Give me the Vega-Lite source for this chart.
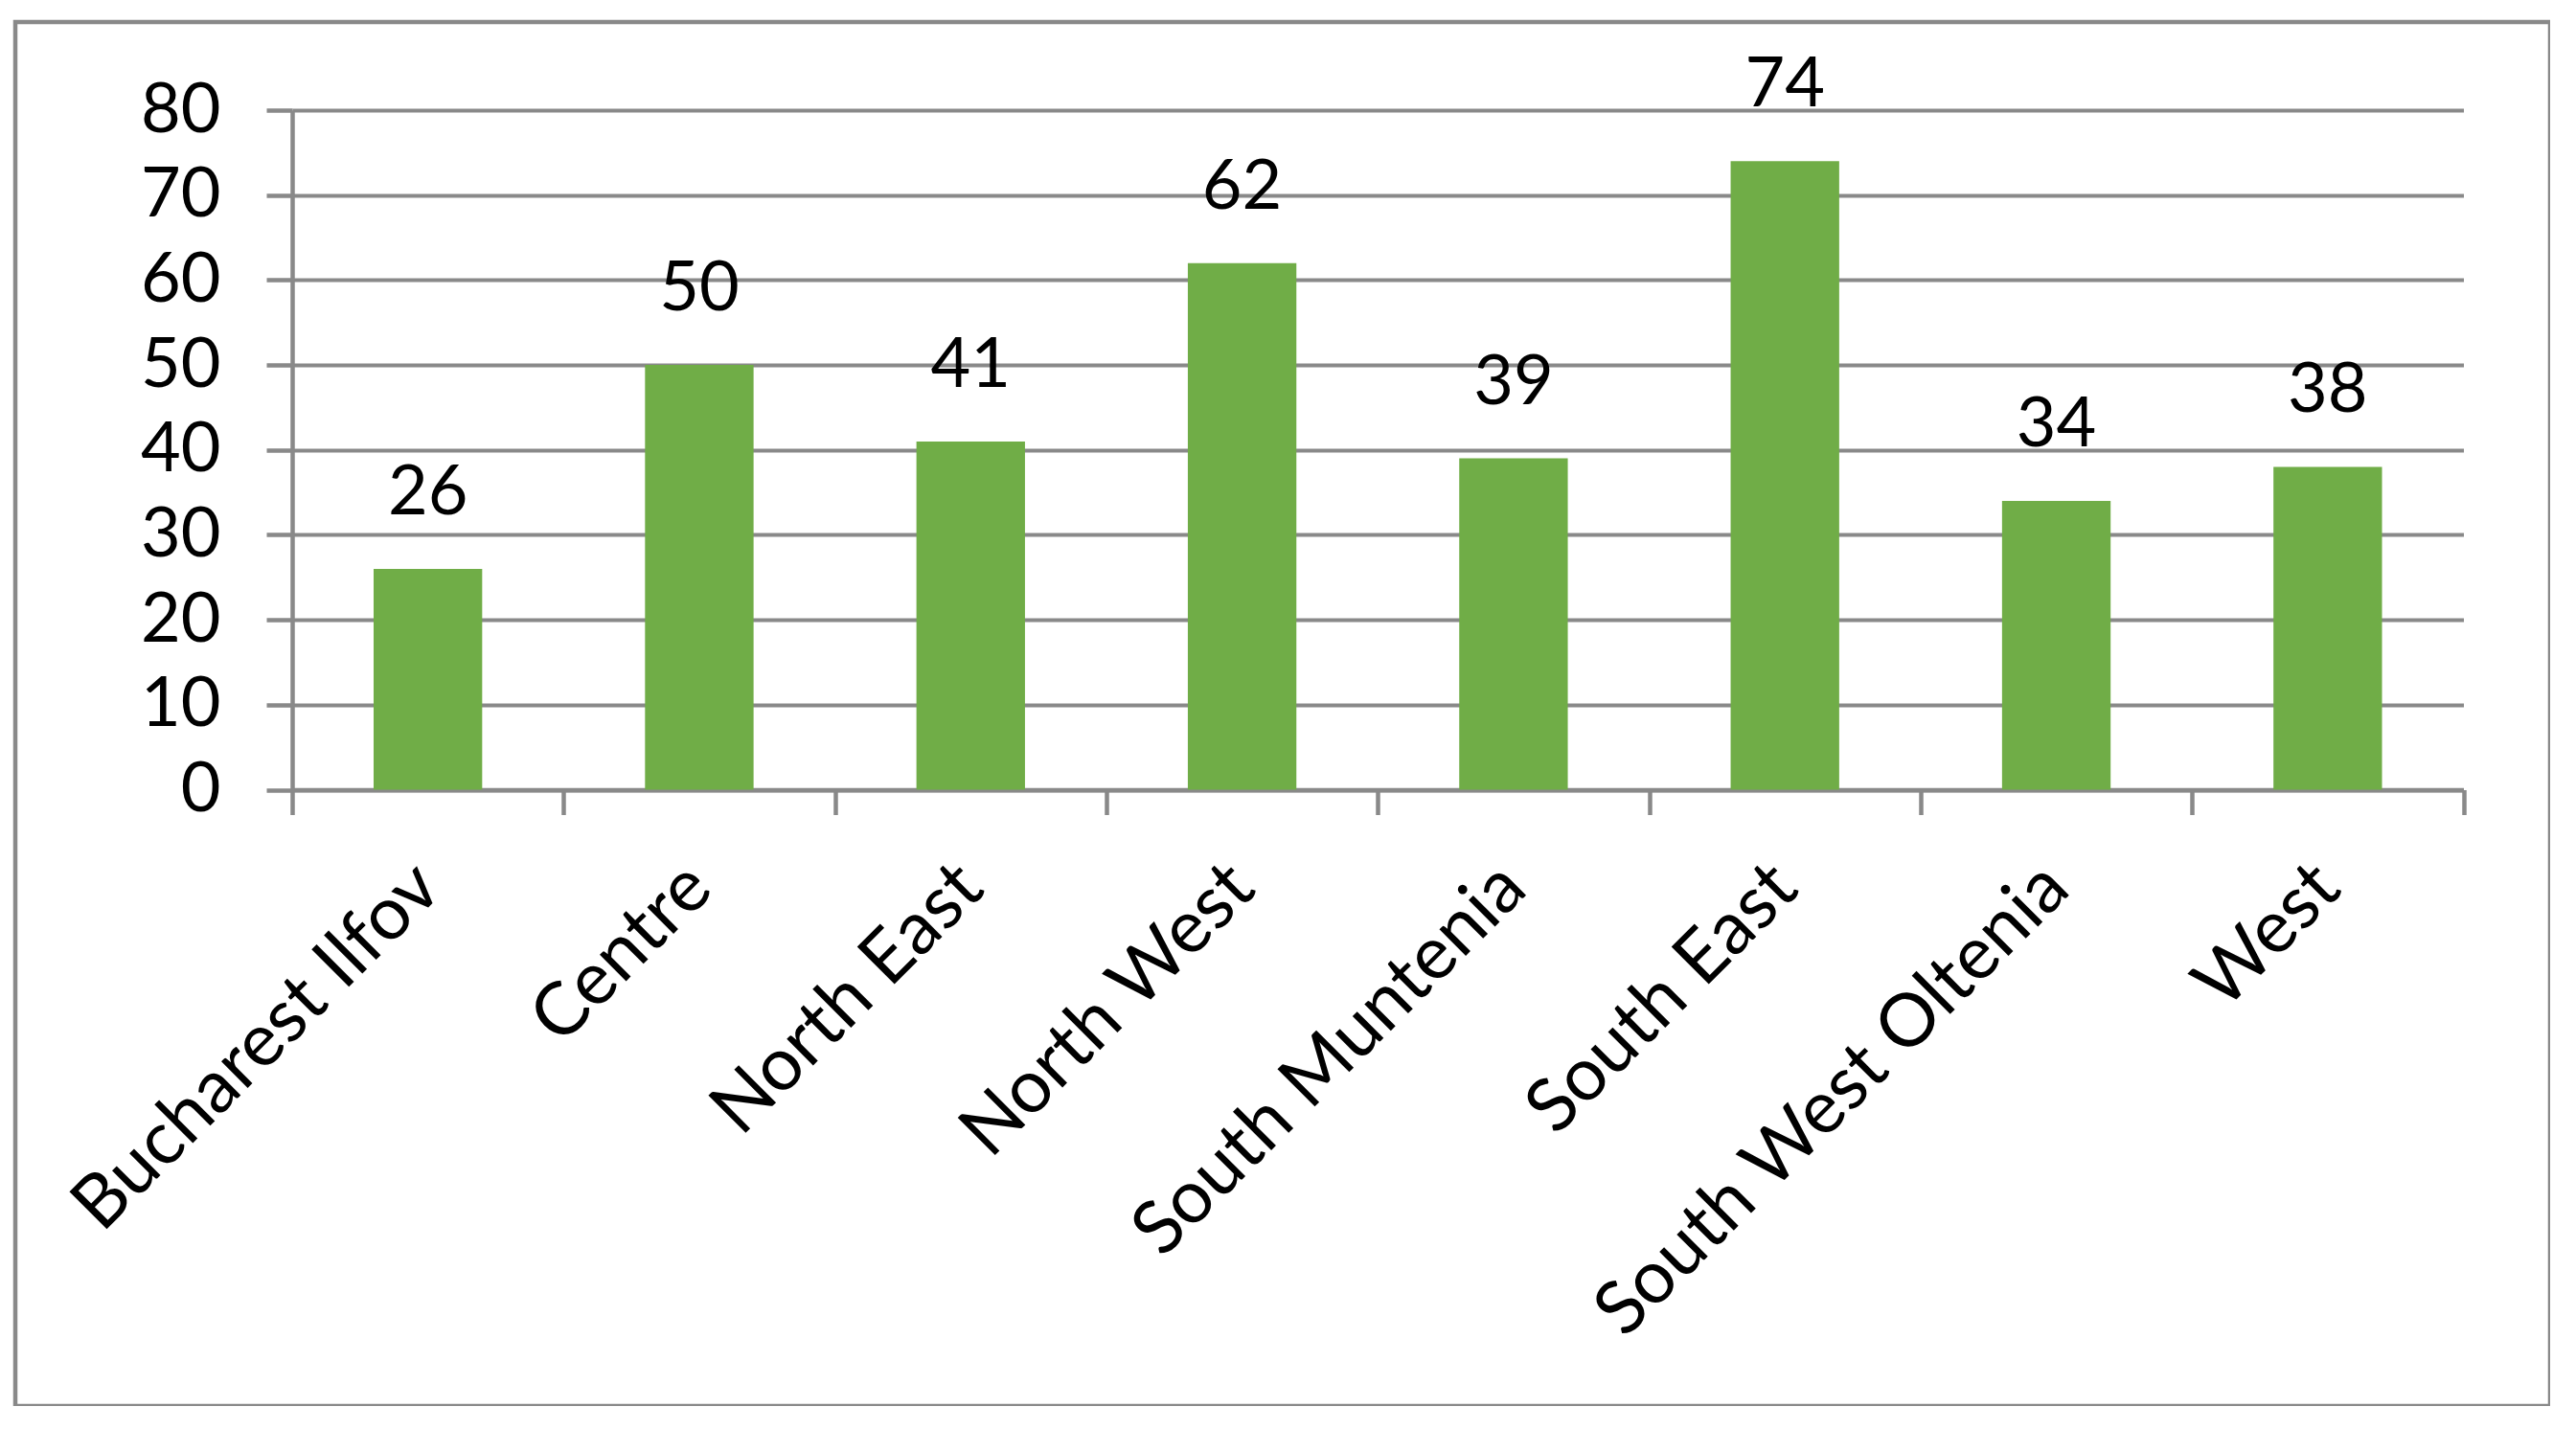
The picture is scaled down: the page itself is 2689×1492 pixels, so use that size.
{
  "$schema": "https://vega.github.io/schema/vega-lite/v6.json",
  "width": 2646,
  "height": 1445,
  "autosize": {"type": "none"},
  "padding": {"left": 16, "top": 23, "right": 0, "bottom": 0},
  "background": "white",
  "view": {"stroke": "#898989", "strokeWidth": 4.5, "fill": "white"},
  "config": {
    "font": "Lato",
    "axis": {
      "labelFont": "Lato",
      "labelFontSize": 72,
      "labelColor": "#000000",
      "domainColor": "#898989",
      "domainWidth": 4.5,
      "tickColor": "#898989",
      "tickWidth": 4.5,
      "gridColor": "#898989",
      "gridWidth": 4,
      "gridOpacity": 1,
      "title": null
    }
  },
  "data": {
    "values": [
      {"region": "Bucharest Ilfov", "value": 26},
      {"region": "Centre", "value": 50},
      {"region": "North East", "value": 41},
      {"region": "North West", "value": 62},
      {"region": "South Muntenia", "value": 39},
      {"region": "South East", "value": 74},
      {"region": "South West Oltenia", "value": 34},
      {"region": "West", "value": 38}
    ]
  },
  "encoding": {
    "x": {
      "field": "region",
      "type": "nominal",
      "sort": null,
      "scale": {"range": [289, 2555.5], "paddingInner": 0, "paddingOuter": 0},
      "axis": {
        "offset": -643.5,
        "grid": false,
        "tickBand": "extent",
        "tickSize": 26,
        "labelAngle": -45,
        "labelAlign": "right",
        "labelBaseline": "middle",
        "labelFontSize": 77,
        "labelPadding": 64,
        "labelOverlap": false,
        "labelLimit": 0
      }
    },
    "y": {
      "field": "value",
      "type": "quantitative",
      "scale": {"domain": [0, 80], "range": [801.5, 92], "nice": false, "zero": true},
      "axis": {
        "offset": -289,
        "values": [0, 10, 20, 30, 40, 50, 60, 70, 80],
        "grid": true,
        "tickSize": 27,
        "labelPadding": 48,
        "labelBaseline": "middle"
      }
    }
  },
  "layer": [
    {
      "mark": {"type": "bar", "width": {"band": 0.4}, "color": "#70ad47"}
    },
    {
      "mark": {"type": "text", "font": "Lato", "fontSize": 72, "color": "#000000", "baseline": "alphabetic", "align": "center", "dy": -57},
      "encoding": {"text": {"field": "value", "type": "quantitative"}}
    }
  ]
}
